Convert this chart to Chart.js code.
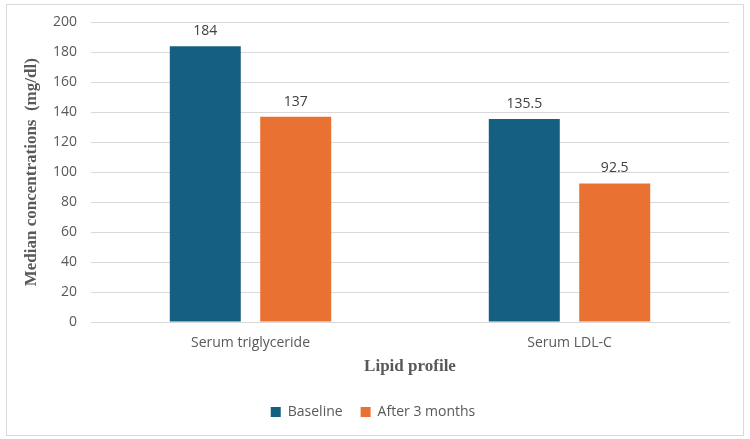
<!DOCTYPE html>
<html>
<head>
<meta charset="utf-8">
<script src="https://cdn.jsdelivr.net/npm/chart.js@4/dist/chart.umd.min.js"></script>
<style>
  html, body { margin: 0; padding: 0; background: #fff; }
  #wrap { width: 750px; height: 439px; }
</style>
</head>
<body>
<div id="wrap"><canvas id="myChart" width="750" height="439"></canvas></div>
<script>
// data
const categories = ['Serum triglyceride', 'Serum LDL-C'];
const baseline = [184, 135.5];
const after3 = [137, 92.5];
const seriesNames = ['Baseline', 'After 3 months'];
const yTicks = { min: 0, max: 200, step: 20 };

// draws the outer frame of the chart
const framePlugin = {
    id: 'frame',
    beforeDraw(chart) {
        const ctx = chart.ctx;
        ctx.save();
        ctx.fillStyle = '#ffffff';
        ctx.fillRect(0, 0, chart.width, chart.height);
        ctx.strokeStyle = '#d9d9d9';
        ctx.lineWidth = 1;
        ctx.strokeRect(6.5, 4.5, 737, 431);
        ctx.restore();
    }
};

// value labels above each bar
const valueLabels = {
    id: 'valueLabels',
    afterDatasetsDraw(chart) {
        const ctx = chart.ctx;
        ctx.save();
        ctx.font = '14px "Open Sans", sans-serif';
        ctx.fillStyle = '#404040';
        ctx.textAlign = 'center';
        ctx.textBaseline = 'bottom';
        chart.data.datasets.forEach((ds, i) => {
            chart.getDatasetMeta(i).data.forEach((bar, j) => {
                ctx.fillText(String(ds.data[j]), bar.x, bar.y - 8);
            });
        });
        ctx.restore();
    }
};

const tickFont = { family: '"Open Sans", sans-serif', size: 14 };
const titleFont = { family: '"Liberation Serif", serif', size: 17, weight: 'bold' };

const ctx = document.getElementById('myChart');
const myChart = new Chart(ctx, {
    type: 'bar',
    data: {
        labels: categories,
        datasets: [{
            label: seriesNames[0],
            data: baseline,
            backgroundColor: '#156082',
            barPercentage: 0.785,
            categoryPercentage: 0.567
        }, {
            label: seriesNames[1],
            data: after3,
            backgroundColor: '#E97132',
            barPercentage: 0.785,
            categoryPercentage: 0.567
        }]
    },
    options: {
        responsive: false,
        animation: false,
        layout: {
            padding: { left: 17, right: 21, top: 21, bottom: 10 }
        },
        scales: {
            x: {
                grid: { display: false },
                border: { color: '#d9d9d9' },
                ticks: {
                    color: '#595959',
                    font: tickFont,
                    padding: 5
                },
                title: {
                    display: true,
                    text: 'Lipid profile',
                    color: '#595959',
                    font: titleFont,
                    padding: { top: 0, bottom: 10 }
                },
                afterFit(scale) { scale.height = 65; }
            },
            y: {
                min: yTicks.min,
                max: yTicks.max,
                grid: { color: '#d9d9d9', drawTicks: false },
                border: { display: false },
                ticks: {
                    stepSize: yTicks.step,
                    color: '#595959',
                    font: tickFont,
                    padding: 14
                },
                title: {
                    display: true,
                    text: 'Median concentrations  (mg/dl)',
                    color: '#595959',
                    font: titleFont,
                    padding: { bottom: 14 }
                },
                afterFit(scale) { scale.width = 74; }
            }
        },
        plugins: {
            legend: {
                position: 'bottom',
                labels: {
                    boxWidth: 10,
                    boxHeight: 10,
                    color: '#595959',
                    font: tickFont,
                    padding: 18
                }
            },
            tooltip: { enabled: false }
        }
    },
    plugins: [framePlugin, valueLabels]
});
</script>
</body>
</html>
